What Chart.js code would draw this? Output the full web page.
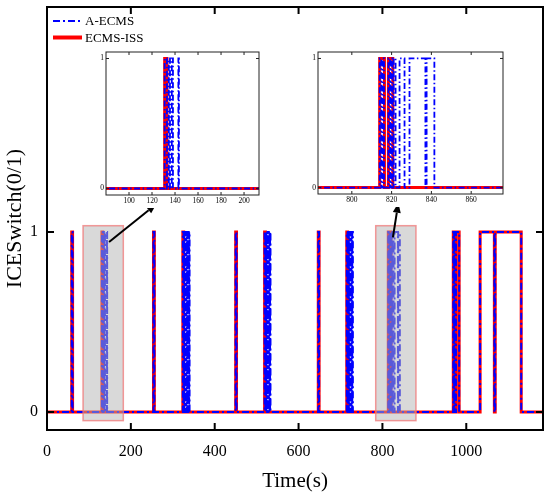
<!DOCTYPE html>
<html><head><meta charset="utf-8">
<script src="https://cdn.jsdelivr.net/npm/chart.js@4.4.1/dist/chart.umd.min.js"></script>
<style>
html,body{margin:0;padding:0;background:#fff;}
#wrap{position:relative;width:550px;height:498px;overflow:hidden;}
#main{position:absolute;left:0;top:0;}
.inset{position:absolute;background:#fff;}
#in1{left:96px;top:46px;}
#in2{left:308px;top:46px;}
</style></head><body>
<div id="wrap">
<canvas id="main" width="550" height="498"></canvas>
<canvas id="in1" class="inset" width="167" height="162"></canvas>
<canvas id="in2" class="inset" width="199" height="161"></canvas>
</div>
<script>
// ===== DATA (switch instants in s, and the state taken from that instant on) =====
const seriesNames = ['A-ECMS', 'ECMS-ISS'];

const aEcmsTime = [0,
  59, 61,
  131, 133, 134.6, 135.6, 137.2, 138.2, 142.9, 143.4,
  254, 256,
  324, 326, 327, 328, 329, 330, 331, 332, 333, 334, 335, 336, 337, 338, 339, 340,
  450, 452,
  519, 521, 522, 523, 524, 525, 526, 527, 528, 529, 530, 531, 532, 533,
  647, 649,
  715, 717, 718, 719, 720, 721, 722, 723, 724, 725, 726, 727, 728, 729.5,
  814, 814.8, 815.3, 816.2, 818.4, 819.2, 819.7, 820.5, 821, 822, 824, 826.5, 829, 837, 837.6, 841.5,
  969, 971, 971.6, 974.5, 975.5, 983,
  1033, 1067, 1069, 1131,
  1183];
const aEcmsState = [0,
  1, 0,
  1, 0, 1, 0, 1, 0, 1, 0,
  1, 0,
  1, 0, 1, 0, 1, 0, 1, 0, 1, 0, 1, 0, 1, 0, 1, 0,
  1, 0,
  1, 0, 1, 0, 1, 0, 1, 0, 1, 0, 1, 0, 1, 0,
  1, 0,
  1, 0, 1, 0, 1, 0, 1, 0, 1, 0, 1, 0, 1, 0,
  1, 0, 1, 0, 1, 0, 1, 0, 1, 0, 1, 0, 1, 0, 1, 0,
  1, 0, 1, 0, 1, 0,
  1, 0, 1, 0,
  0];

const ecmsIssTime = [0, 59, 61, 131, 133, 254, 256, 324, 326, 450, 452, 519, 521, 647, 649, 715, 717,
  814, 816.4, 818.4, 820.6, 969, 974.5, 975.5, 983, 1033, 1067, 1069, 1131, 1183];
const ecmsIssState = [0, 1, 0, 1, 0, 1, 0, 1, 0, 1, 0, 1, 0, 1, 0, 1, 0,
  1, 0, 1, 0, 1, 0, 1, 0, 1, 0, 1, 0, 0];

const mainXLabels = [0, 200, 400, 600, 800, 1000];
const mainYLabels = [0, 1];
const inset1XLabels = [100, 120, 140, 160, 180, 200];
const inset2XLabels = [800, 820, 840, 860];
const insetYLabels = [0, 1];
const zoomWindows = [[86, 182], [784, 880]];

// ===== STYLE =====
const SERIF = "'Liberation Serif','Times New Roman',serif";
const BLUE = '#0000ff', RED = '#ff0000';
const toPts = (t, v) => t.map((x, i) => ({x: x, y: v[i]}));

function datasets(blueW, redW, dash) {
  return [
    {label: seriesNames[0], data: toPts(aEcmsTime, aEcmsState), borderColor: BLUE, borderWidth: blueW,
     borderDash: dash, stepped: 'before', pointRadius: 0, fill: false, tension: 0},
    {label: seriesNames[1], data: toPts(ecmsIssTime, ecmsIssState), borderColor: RED, borderWidth: redW,
     stepped: 'before', pointRadius: 0, fill: false, tension: 0}
  ];
}

function noPad(s) { s.paddingTop = 0; s.paddingBottom = 0; s.paddingLeft = 0; s.paddingRight = 0; }

function frameTicks(chart, o) {
  const {ctx, chartArea: a, scales: {x, y}} = chart;
  ctx.save();
  ctx.strokeStyle = o.color; ctx.lineWidth = o.tickWidth; ctx.lineCap = 'butt';
  ctx.beginPath();
  x.ticks.forEach(t => {
    const px = x.getPixelForValue(t.value);
    if (px < a.left + 1 || px > a.right - 1) return;
    const len = o.majorX(t.value) ? o.major : o.minor;
    ctx.moveTo(px, a.bottom); ctx.lineTo(px, a.bottom - len);
    ctx.moveTo(px, a.top); ctx.lineTo(px, a.top + len);
  });
  y.ticks.forEach(t => {
    const py = y.getPixelForValue(t.value);
    if (py < a.top + 1 || py > a.bottom - 1) return;
    const len = o.majorY(t.value) ? o.major : o.minor;
    ctx.moveTo(a.left, py); ctx.lineTo(a.left + len, py);
    ctx.moveTo(a.right, py); ctx.lineTo(a.right - len, py);
  });
  ctx.stroke();
  ctx.lineWidth = o.borderWidth;
  ctx.strokeRect(a.left, a.top, a.right - a.left, a.bottom - a.top);
  ctx.restore();
}

// ===== MAIN CHART =====
const mainDecor = {
  id: 'mainDecor',
  afterDatasetsDraw(chart) {
    const {ctx, scales: {x, y}} = chart;
    ctx.save();
    zoomWindows.forEach(w => {
      const l = x.getPixelForValue(w[0]), r = x.getPixelForValue(w[1]);
      const t = y.getPixelForValue(1.035), b = y.getPixelForValue(-0.048);
      ctx.fillStyle = 'rgba(180,180,180,0.5)';
      ctx.fillRect(l, t, r - l, b - t);
      ctx.strokeStyle = 'rgba(240,120,120,0.75)';
      ctx.lineWidth = 1.5;
      ctx.strokeRect(l, t, r - l, b - t);
    });
    const arrows = [[148, 0.944, 261, 1.156], [825, 0.97, 838, 1.163]];
    arrows.forEach(a => {
      const x0 = x.getPixelForValue(a[0]), y0 = y.getPixelForValue(a[1]);
      const x1 = x.getPixelForValue(a[2]), y1 = y.getPixelForValue(a[3]);
      const ang = Math.atan2(y1 - y0, x1 - x0);
      const hl = 10, hw = 4;
      const bx = x1 - hl * Math.cos(ang), by = y1 - hl * Math.sin(ang);
      ctx.strokeStyle = '#000'; ctx.fillStyle = '#000'; ctx.lineWidth = 2;
      ctx.beginPath(); ctx.moveTo(x0, y0); ctx.lineTo(bx, by); ctx.stroke();
      ctx.beginPath();
      ctx.moveTo(x1, y1);
      ctx.lineTo(bx + hw * Math.sin(ang), by - hw * Math.cos(ang));
      ctx.lineTo(bx - hw * Math.sin(ang), by + hw * Math.cos(ang));
      ctx.closePath(); ctx.fill();
    });
    ctx.restore();
  },
  afterDraw(chart) {
    frameTicks(chart, {color: '#000', tickWidth: 2, borderWidth: 2, major: 7, minor: 4,
      majorX: v => v % 200 === 0, majorY: v => Math.abs(v - Math.round(v)) < 1e-6});
    const {ctx, chartArea: a} = chart;
    ctx.save();
    ctx.font = '13px ' + SERIF;
    ctx.textBaseline = 'middle';
    ctx.fillStyle = '#000';
    chart.data.datasets.forEach((ds, i) => {
      const yy = a.top + 14 + i * 16.5;
      ctx.strokeStyle = ds.borderColor;
      ctx.lineWidth = i === 0 ? 2.2 : 4;
      ctx.setLineDash(ds.borderDash || []);
      ctx.beginPath(); ctx.moveTo(a.left + 6, yy); ctx.lineTo(a.left + 35, yy); ctx.stroke();
      ctx.setLineDash([]);
      ctx.fillText(ds.label, a.left + 38, yy + 1);
    });
    ctx.restore();
  }
};

new Chart(document.getElementById('main'), {
  type: 'line',
  data: {datasets: datasets(2, 3, [7, 3, 2, 3])},
  options: {
    responsive: false, animation: false,
    layout: {padding: {top: 7, right: 7, left: 0, bottom: 0}},
    plugins: {legend: {display: false}, tooltip: {enabled: false}},
    scales: {
      x: {
        type: 'linear', min: 0, max: 1183,
        grid: {display: false, drawTicks: false}, border: {display: false},
        ticks: {stepSize: 100, autoSkip: false, maxRotation: 0, includeBounds: false, padding: 12,
          color: '#000', font: {family: SERIF, size: 16},
          callback: v => mainXLabels.includes(v) ? String(v) : null},
        title: {display: true, text: 'Time(s)', color: '#000', font: {family: SERIF, size: 21},
          padding: {top: 0, bottom: 4}},
        afterFit: s => { s.height = 68; noPad(s); }
      },
      y: {
        type: 'linear', min: -0.1, max: 2.25,
        grid: {display: false, drawTicks: false}, border: {display: false},
        ticks: {stepSize: 0.5, includeBounds: false, padding: 9, color: '#000',
          font: {family: SERIF, size: 16},
          callback: v => mainYLabels.includes(v) ? String(v) : null},
        title: {display: true, text: 'ICESwitch(0/1)', color: '#000', font: {family: SERIF, size: 22},
          padding: {top: 2, bottom: 0}},
        afterFit: s => { s.width = 47; noPad(s); }
      }
    }
  },
  plugins: [mainDecor]
});

// ===== INSETS =====
function makeInset(id, xmin, xmax, labels) {
  const deco = {
    id: 'insetDeco' + id,
    afterDraw(chart) {
      frameTicks(chart, {color: '#222', tickWidth: 1, borderWidth: 1, major: 3, minor: 2,
        majorX: v => true, majorY: v => true});
    }
  };
  new Chart(document.getElementById(id), {
    type: 'line',
    data: {datasets: datasets(1.8, 3, [6, 2.5, 1.5, 2.5])},
    options: {
      responsive: false, animation: false,
      layout: {padding: {top: 6, right: 4, left: 0, bottom: 0}},
      plugins: {legend: {display: false}, tooltip: {enabled: false}},
      scales: {
        x: {
          type: 'linear', min: xmin, max: xmax,
          grid: {display: false, drawTicks: false}, border: {display: false},
          ticks: {stepSize: 20, autoSkip: false, maxRotation: 0, includeBounds: false, padding: 2,
            color: '#000', font: {family: SERIF, size: 7.5},
            callback: v => labels.includes(v) ? String(v) : null},
          afterFit: s => { s.height = 13; noPad(s); }
        },
        y: {
          type: 'linear', min: -0.05, max: 1.05,
          grid: {display: false, drawTicks: false}, border: {display: false},
          ticks: {stepSize: 0.5, includeBounds: false, padding: 2, color: '#000',
            font: {family: SERIF, size: 7.5},
            callback: v => insetYLabels.includes(v) ? String(v) : null},
          afterFit: s => { s.width = 10; noPad(s); }
        }
      }
    },
    plugins: [deco]
  });
}
makeInset('in1', 80, 213, inset1XLabels);
makeInset('in2', 783, 876, inset2XLabels);
</script>
</body></html>
